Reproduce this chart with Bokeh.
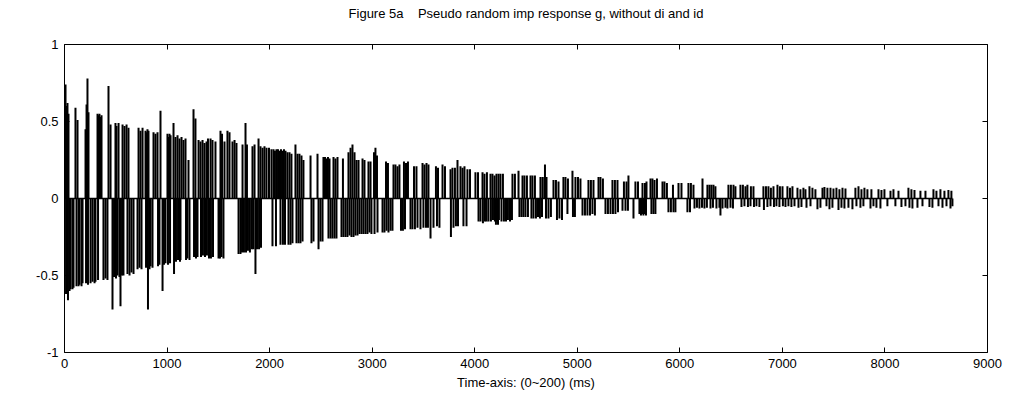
from bokeh.plotting import figure
from bokeh.models import Range1d, LinearAxis, FixedTicker
from bokeh.embed import file_html
from bokeh.resources import INLINE

# ---------------- data (sample index, value) ----------------
t_pos = [10, 20, 29, 39, 107, 127, 205, 215, 224, 234, 322, 332, 341, 351, 361, 429, 449, 497, 507, 527,
         566, 585, 605, 624, 722, 741, 761, 790, 800, 809, 819, 868, 887, 907, 936, 1004, 1014, 1024, 1034,
         1063, 1082, 1102, 1121, 1141, 1160, 1180, 1209, 1258, 1277, 1307, 1326, 1346, 1365, 1385,
         1399, 1424, 1443, 1472, 1521, 1536, 1560, 1589, 1609, 1638, 1658, 1677, 1736, 1765, 1779, 1833,
         1853, 1892, 1911, 1931, 1950, 1970, 1994, 2018, 2038, 2052, 2067, 2082, 2096, 2111, 2126, 2140,
         2155, 2174, 2194, 2213, 2252, 2272, 2291, 2311, 2330, 2399, 2467, 2525, 2540, 2555, 2569, 2584,
         2623, 2642, 2662, 2715, 2769, 2789, 2808, 2828,
         2847, 2867, 2906, 2925, 2964, 2984, 3018, 3032, 3047, 3135, 3154, 3208, 3227, 3247, 3266, 3310,
         3330, 3349, 3408, 3432, 3491, 3510, 3530, 3549, 3622, 3642, 3686, 3710, 3764, 3783, 3807, 3832,
         3861, 3881, 3900, 3929, 3954, 4007, 4032, 4076, 4095, 4119, 4154, 4173, 4193, 4212,
         4232, 4251, 4275, 4368, 4392, 4427, 4466, 4485, 4509, 4544, 4563, 4587, 4641, 4661, 4680, 4685,
         4700, 4768, 4792, 4817, 4865, 4885, 4909, 4953, 4982, 5007, 5031, 5109, 5133, 5158, 5207, 5226,
         5250, 5343, 5367, 5392, 5455, 5480, 5499, 5567, 5592, 5636, 5660,
         5675, 5714, 5733, 5753, 5777, 5831, 5850, 5874, 5933, 5987, 6016, 6084, 6108, 6133, 6221, 6269,
         6289, 6308, 6328, 6347, 6474, 6498, 6523, 6542, 6591, 6615, 6640, 6659, 6693, 6718, 6815, 6840,
         6864, 6888, 6913, 6952, 6976, 7001, 7049, 7074, 7098,
         7147, 7176, 7205, 7225, 7264, 7293, 7322, 7391, 7410, 7439, 7469, 7498, 7527, 7556, 7586, 7615,
         7712, 7742, 7771, 7800, 7829, 7868, 7937, 7966, 7995, 8054, 8083, 8132, 8229, 8258, 8288, 8346,
         8395, 8473, 8502, 8541, 8580, 8619, 8648]
g_pos = [0.74, 0.60, 0.62, 0.55, 0.59, 0.51, 0.45, 0.61, 0.78, 0.56, 0.55, 0.54, 0.55, 0.53, 0.54, 0.73, 0.48, 0.49, 0.47, 0.49,
         0.48, 0.47, 0.48, 0.46, 0.46, 0.44, 0.46, 0.44, 0.43, 0.45, 0.44, 0.43, 0.42, 0.43, 0.57, 0.42, 0.40, 0.42, 0.41,
         0.49, 0.40, 0.41, 0.39, 0.40, 0.38, 0.39, 0.25, 0.58, 0.52, 0.38, 0.37, 0.38, 0.36, 0.37,
         0.39, 0.39, 0.38, 0.37, 0.44, 0.42, 0.37, 0.44, 0.43, 0.37, 0.38, 0.36, 0.35, 0.49, 0.35, 0.34,
         0.35, 0.39, 0.34, 0.33, 0.34, 0.33, 0.33, 0.32, 0.32, 0.31, 0.32, 0.32, 0.31, 0.32, 0.31, 0.32,
         0.31, 0.30, 0.30, 0.29, 0.35, 0.29, 0.29, 0.28, 0.25, 0.28, 0.29, 0.27, 0.27, 0.26, 0.27, 0.26,
         0.27, 0.26, 0.27, 0.26, 0.30, 0.33, 0.35, 0.30,
         0.25, 0.25, 0.26, 0.25, 0.24, 0.24, 0.30, 0.33, 0.28, 0.24, 0.23, 0.22, 0.22, 0.21, 0.22, 0.24,
         0.23, 0.24, 0.21, 0.21, 0.23, 0.22, 0.23, 0.22, 0.21, 0.20, 0.22, 0.21, 0.19, 0.20, 0.20, 0.25,
         0.21, 0.20, 0.21, 0.19, 0.19, 0.17, 0.17, 0.17, 0.16, 0.17, 0.16, 0.16, 0.15, 0.16,
         0.16, 0.16, 0.16, 0.16, 0.16, 0.18, 0.15, 0.15, 0.15, 0.15, 0.15, 0.15, 0.14, 0.14, 0.14, 0.22,
         0.14, 0.12, 0.12, 0.11, 0.14, 0.14, 0.13, 0.18, 0.14, 0.14, 0.13, 0.12, 0.12, 0.12, 0.14, 0.14,
         0.13, 0.12, 0.12, 0.12, 0.11, 0.11, 0.15, 0.11, 0.11, 0.10, 0.10,
         0.11, 0.13, 0.13, 0.12, 0.13, 0.11, 0.11, 0.10, 0.09, 0.10, 0.10, 0.10, 0.10, 0.09, 0.13, 0.09,
         0.09, 0.09, 0.09, 0.08, 0.09, 0.09, 0.09, 0.08, 0.09, 0.09, 0.08, 0.09, 0.08, 0.08, 0.08, 0.08,
         0.08, 0.07, 0.08, 0.09, 0.08, 0.08, 0.08, 0.07, 0.08,
         0.07, 0.06, 0.07, 0.06, 0.08, 0.07, 0.06, 0.07, 0.075, 0.07, 0.07, 0.065, 0.07, 0.06, 0.07, 0.065,
         0.07, 0.08, 0.06, 0.07, 0.06, 0.06, 0.06, 0.055, 0.06, 0.05, 0.06, 0.05, 0.07, 0.06, 0.055, 0.05,
         0.05, 0.06, 0.05, 0.06, 0.05, 0.055, 0.05]

t_neg = [15, 34, 49, 59, 78, 88, 117, 137, 146, 166, 176, 210, 229, 254, 273, 293, 302, 327, 380, 400,
         419, 468, 483, 502, 517, 536, 546, 561, 575, 614, 634, 653, 673, 712, 731, 751, 795, 814, 829, 839,
         858, 912, 926, 956, 970, 985, 1009, 1029, 1068, 1087, 1107, 1126, 1131, 1185, 1199, 1219, 1263, 1282,
         1297, 1331, 1350, 1370, 1389,
         1409, 1428, 1448, 1502, 1516, 1531, 1550, 1697, 1716, 1731, 1750, 1770, 1789, 1808, 1828, 1843,
         1862, 1877, 1897, 1916, 2028, 2062, 2106, 2130, 2150, 2184, 2204, 2223, 2262, 2282, 2301, 2321,
         2408, 2428, 2477, 2496, 2516, 2574, 2594, 2613, 2633, 2652, 2701, 2720, 2740, 2759, 2779, 2798,
         2818, 2837,
         2857, 2876, 2896, 2915, 2935, 2954, 2974, 2993, 3023, 3052, 3101, 3120, 3140, 3159, 3179, 3198,
         3281, 3300, 3320, 3374, 3393, 3417, 3442, 3471, 3500, 3525, 3544, 3569, 3598, 3632, 3656, 3768,
         3793, 3817, 3837, 3890, 3920, 4037, 4056, 4080, 4100, 4115, 4134, 4158, 4178, 4197, 4217, 4236,
         4207, 4227, 4261, 4285, 4305, 4324, 4344, 4363, 4436, 4456, 4475, 4495, 4519, 4553, 4573, 4597,
         4617, 4636, 4656, 4695, 4719, 4743, 4802, 4826, 4851, 4904, 4958, 4977, 5051, 5075, 5099, 5124,
         5148, 5172, 5275, 5299, 5324, 5348, 5372, 5397, 5441, 5470, 5494, 5548, 5606, 5631, 5655,
         5621, 5645, 5670, 5723, 5743, 5762, 5889, 5913, 5938, 5957, 6074, 6099, 6143, 6167, 6191, 6216,
         6240, 6264, 6299, 6323, 6357, 6386, 6396, 6416, 6445, 6464, 6494, 6518, 6601, 6630, 6664, 6689,
         6723, 6747, 6776, 6820, 6854, 6884, 6918, 6942, 6971, 7005, 7030, 7059, 7088, 7118,
         7157, 7186, 7235, 7274, 7342, 7371, 7430, 7459, 7488, 7547, 7576, 7605, 7644, 7683, 7722, 7761,
         7790, 7859, 7888, 7917, 7956, 8024, 8102, 8161, 8200, 8239, 8268, 8317, 8366, 8434, 8463, 8522,
         8561, 8600, 8639, 8658]
g_neg = [-0.62, -0.66, -0.60, -0.59, -0.59, -0.58, -0.57, -0.57, -0.56, -0.57, -0.55, -0.55, -0.56, -0.55, -0.54, -0.55, -0.54, -0.53, -0.53, -0.52,
         -0.53, -0.72, -0.51, -0.52, -0.50, -0.51, -0.70, -0.50, -0.50, -0.49, -0.50, -0.48, -0.49, -0.46, -0.45, -0.46, -0.45, -0.72, -0.46, -0.44,
         -0.45, -0.44, -0.43, -0.60, -0.43, -0.42, -0.43, -0.42, -0.49, -0.41, -0.40, -0.41, -0.40, -0.40, -0.39, -0.40, -0.38, -0.39,
         -0.38, -0.38, -0.37, -0.38, -0.37,
         -0.39, -0.39, -0.38, -0.39, -0.39, -0.38, -0.39, -0.36, -0.36, -0.35, -0.35, -0.35, -0.34, -0.35, -0.33, -0.33,
         -0.49, -0.33, -0.33, -0.32, -0.31, -0.31, -0.30, -0.30, -0.30, -0.30, -0.30, -0.29, -0.29, -0.29, -0.29, -0.28,
         -0.29, -0.28, -0.33, -0.28, -0.28, -0.26, -0.26, -0.26, -0.26, -0.26, -0.25, -0.25, -0.25, -0.25, -0.24, -0.25,
         -0.25, -0.24,
         -0.24, -0.23, -0.23, -0.23, -0.23, -0.23, -0.22, -0.23, -0.23, -0.22, -0.22, -0.22, -0.21, -0.22, -0.21, -0.21,
         -0.21, -0.21, -0.20, -0.20, -0.20, -0.20, -0.19, -0.20, -0.19, -0.19, -0.19, -0.26, -0.19, -0.18, -0.19, -0.25,
         -0.19, -0.18, -0.18, -0.18, -0.18, -0.15, -0.15, -0.16, -0.15, -0.15, -0.15, -0.15, -0.14, -0.15, -0.15, -0.14,
         -0.17, -0.17, -0.15, -0.15, -0.15, -0.14, -0.15, -0.14, -0.12, -0.12, -0.12, -0.12, -0.12, -0.13, -0.13, -0.13,
         -0.12, -0.13, -0.12, -0.13, -0.13, -0.12, -0.14, -0.13, -0.14, -0.10, -0.12, -0.12, -0.11, -0.11, -0.11, -0.11,
         -0.10, -0.11, -0.10, -0.10, -0.10, -0.10, -0.10, -0.09, -0.08, -0.08, -0.08, -0.13, -0.10, -0.10, -0.10,
         -0.11, -0.11, -0.11, -0.10, -0.10, -0.10, -0.09, -0.09, -0.09, -0.09, -0.09, -0.09, -0.065, -0.06, -0.065, -0.06,
         -0.065, -0.06, -0.065, -0.06, -0.065, -0.06, -0.11, -0.065, -0.06, -0.065, -0.06, -0.065, -0.055, -0.05, -0.055, -0.05,
         -0.055, -0.05, -0.055, -0.075, -0.055, -0.05, -0.055, -0.05, -0.055, -0.05, -0.055, -0.05, -0.055, -0.05,
         -0.06, -0.055, -0.06, -0.05, -0.07, -0.06, -0.05, -0.07, -0.06, -0.075, -0.06, -0.065, -0.06, -0.07, -0.05, -0.06,
         -0.05, -0.065, -0.05, -0.06, -0.065, -0.05, -0.05, -0.055, -0.05, -0.06, -0.065, -0.06, -0.05, -0.055, -0.06, -0.05,
         -0.06, -0.05, -0.065, -0.05]

x_ticks = [0, 1000, 2000, 3000, 4000, 5000, 6000, 7000, 8000, 9000]
y_ticks = [-1, -0.5, 0, 0.5, 1]
y_tick_labels = ["-1", "-0.5", "0", "0.5", "1"]

title_text = "Figure 5a\u00a0\u00a0\u00a0\u00a0Pseudo random imp response g, without di and id"
x_label = "Time-axis: (0~200) (ms)"

# ---------------- figure ----------------
FONT = "Liberation Sans"
t_all = t_pos + t_neg
g_all = g_pos + g_neg

p = figure(width=1009, height=406, output_backend="svg", toolbar_location=None,
           x_range=Range1d(x_ticks[0], x_ticks[-1]), y_range=Range1d(y_ticks[0], y_ticks[-1]),
           min_border_left=64, min_border_right=22, min_border_top=44, min_border_bottom=54)
p.background_fill_color = "white"
p.border_fill_color = "white"
p.outline_line_color = "black"
p.outline_line_width = 1
p.xgrid.visible = False
p.ygrid.visible = False

# zero baseline of the response and the impulse stems
p.segment(x0=[0], y0=[0], x1=[max(t_all)], y1=[0], line_color="black", line_width=1.5)
p.segment(x0=t_all, y0=[0] * len(t_all), x1=t_all, y1=g_all, line_color="black", line_width=2)

def style_axis(ax):
    ax.major_tick_in = 5
    ax.major_tick_out = 0
    ax.minor_tick_in = 0
    ax.minor_tick_out = 0
    ax.axis_line_color = None
    ax.major_tick_line_color = "black"
    ax.major_label_text_font = FONT
    ax.major_label_text_font_size = "13px"
    ax.major_label_text_color = "black"
    ax.major_label_standoff = 6
    ax.axis_label_text_font = FONT
    ax.axis_label_text_font_size = "13px"
    ax.axis_label_text_font_style = "normal"
    ax.axis_label_text_color = "black"

p.xaxis.ticker = FixedTicker(ticks=x_ticks)
p.yaxis.ticker = FixedTicker(ticks=y_ticks)
p.yaxis.major_label_overrides = {v: s for v, s in zip(y_ticks, y_tick_labels)}
for ax in p.xaxis + p.yaxis:
    style_axis(ax)
p.xaxis.major_label_standoff = 6
p.xaxis.axis_label = x_label
p.xaxis.axis_label_standoff = 4

# top edge: tick marks without labels, with the chart title above them
top = LinearAxis(ticker=FixedTicker(ticks=x_ticks))
style_axis(top)
top.major_label_overrides = {v: "" for v in x_ticks}
top.major_label_standoff = 0
top.axis_label = title_text
top.axis_label_standoff = 24
p.add_layout(top, "above")

right = LinearAxis(ticker=FixedTicker(ticks=y_ticks))
style_axis(right)
right.major_label_overrides = {v: "" for v in y_ticks}
right.major_label_standoff = 0
p.add_layout(right, "right")

open("out.html", "w").write(file_html(p, INLINE))
